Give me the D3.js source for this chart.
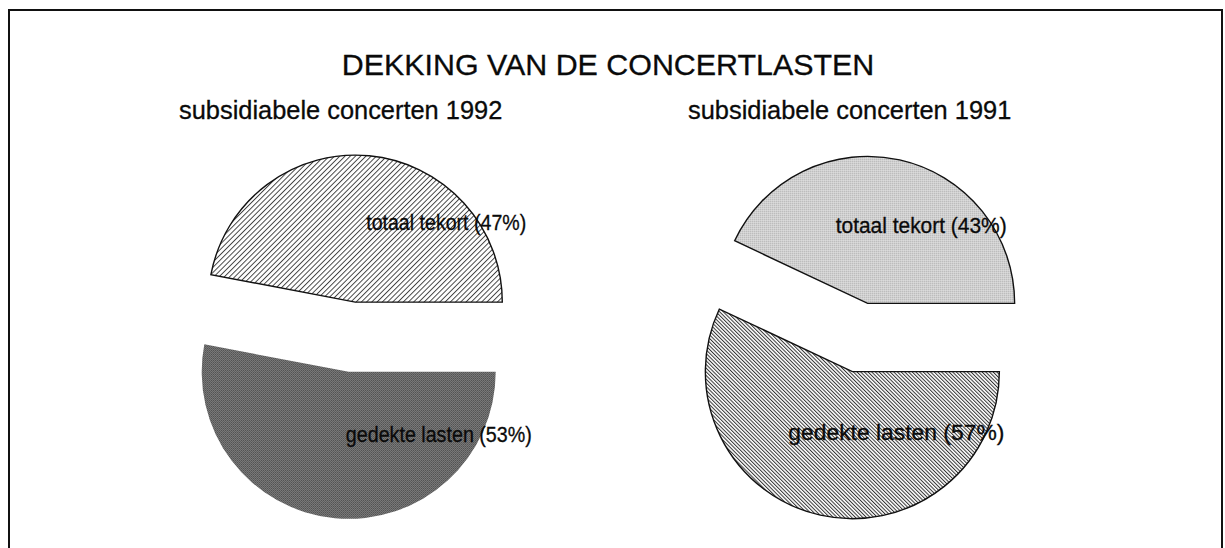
<!DOCTYPE html>
<html>
<head>
<meta charset="utf-8">
<script src="https://cdn.jsdelivr.net/npm/d3@7"></script>
<style>
  html, body { margin: 0; padding: 0; background: #fff; }
  text { font-family: "Liberation Sans", Arial, sans-serif; fill: #0a0a0a; stroke: #0a0a0a; stroke-width: 0.3px; }
</style>
</head>
<body>
<div id="chart"></div>
<script>
// data
const title = 'DEKKING VAN DE CONCERTLASTEN';
const years = ['1992', '1991'];
const subtitles = ['subsidiabele concerten 1992', 'subsidiabele concerten 1991'];
const categories = ['gedekte lasten', 'totaal tekort'];
const share1992 = [53, 47];
const share1991 = [57, 43];

const width = 1225;
const height = 548;
const radius = 147;
const explode = 35;

// layout per pie (label widths follow the squeezed lettering of the original)
const panels = [
  { cx: 352, cy: 337, subX: 179, labelDx: 4, labelWidths: [186, 160], values: share1992,
    fills: ['url(#checker)', 'url(#hatch-fwd)'], strokes: [false, true] },
  { cx: 860, cy: 337.5, subX: 688, labelDx: -48, labelWidths: [216, 171], values: share1991,
    fills: ['url(#hatch-back)', 'url(#dots)'], strokes: [true, true] }
];

const $svg = d3.select('#chart').append('svg')
  .attr('width', width)
  .attr('height', height);

const defs = $svg.append('defs');

// "/" hatch
const fwd = defs.append('pattern')
  .attr('id', 'hatch-fwd')
  .attr('patternUnits', 'userSpaceOnUse')
  .attr('width', 3.7).attr('height', 10)
  .attr('patternTransform', 'rotate(45)');
fwd.append('rect').attr('width', 3.7).attr('height', 10).attr('fill', '#fff');
fwd.append('line').attr('x1', 0.5).attr('x2', 0.5).attr('y1', 0).attr('y2', 10)
  .attr('stroke', '#222').attr('stroke-width', 0.85);

// "\" hatch, denser
const back = defs.append('pattern')
  .attr('id', 'hatch-back')
  .attr('patternUnits', 'userSpaceOnUse')
  .attr('width', 2.6).attr('height', 10)
  .attr('patternTransform', 'rotate(-45)');
back.append('rect').attr('width', 2.6).attr('height', 10).attr('fill', '#fff');
back.append('line').attr('x1', 0.5).attr('x2', 0.5).attr('y1', 0).attr('y2', 10)
  .attr('stroke', '#333').attr('stroke-width', 1);

// fine stipple
const dots = defs.append('pattern')
  .attr('id', 'dots')
  .attr('patternUnits', 'userSpaceOnUse')
  .attr('width', 2).attr('height', 2);
dots.append('rect').attr('width', 2).attr('height', 2).attr('fill', '#e8e8e8');
dots.append('rect').attr('width', 1).attr('height', 1).attr('fill', '#808080');

// dark checker
const checker = defs.append('pattern')
  .attr('id', 'checker')
  .attr('patternUnits', 'userSpaceOnUse')
  .attr('width', 2).attr('height', 2);
checker.append('rect').attr('width', 2).attr('height', 2).attr('fill', '#a0a0a0');
checker.append('rect').attr('width', 1).attr('height', 1).attr('fill', '#262626');
checker.append('rect').attr('x', 1).attr('y', 1).attr('width', 1).attr('height', 1).attr('fill', '#3a3a3a');

defs.append('filter').attr('id', 'soft')
  .append('feGaussianBlur').attr('stdDeviation', 0.6);

// frame
$svg.append('path')
  .attr('d', `M9,${height + 5}V10H1222V${height + 5}`)
  .attr('fill', 'none')
  .attr('stroke', '#111')
  .attr('stroke-width', 2);

$svg.append('text')
  .attr('x', 608)
  .attr('y', 75)
  .attr('text-anchor', 'middle')
  .attr('font-size', 30.4)
  .text(title);

const pie = d3.pie()
  .sort(null)
  .startAngle(Math.PI / 2)
  .endAngle(Math.PI / 2 + 2 * Math.PI);

const arc = d3.arc()
  .innerRadius(0)
  .outerRadius(radius);

panels.forEach((p, i) => {
  $svg.append('text')
    .attr('x', p.subX)
    .attr('y', 119)
    .attr('font-size', 25.4)
    .text(subtitles[i]);

  const $pie = $svg.append('g')
    .attr('transform', `translate(${p.cx}, ${p.cy})`);

  const slices = pie(p.values).map((d, j) => {
    const mid = (d.startAngle + d.endAngle) / 2;
    return Object.assign(d, {
      name: categories[j],
      dx: Math.sin(mid) * explode,
      dy: -Math.cos(mid) * explode,
      fill: p.fills[j],
      stroke: p.strokes[j],
      labelWidth: p.labelWidths[j]
    });
  });

  $pie.selectAll('.slice')
    .data(slices)
    .enter()
    .append('path')
    .attr('class', 'slice')
    .attr('transform', d => `translate(${d.dx}, ${d.dy})`)
    .attr('d', arc)
    .attr('fill', d => d.fill)
    .attr('stroke', d => d.stroke ? '#111' : 'none')
    .attr('stroke-width', 1.4)
    .attr('filter', d => d.stroke ? null : 'url(#soft)');

  $pie.selectAll('.label')
    .data(slices)
    .enter()
    .append('text')
    .attr('class', 'label')
    .attr('x', d => arc.centroid(d)[0] + d.dx + p.labelDx)
    .attr('y', d => arc.centroid(d)[1] + d.dy + (d.dy < 0 ? 1 : -3))
    .attr('font-size', 22)
    .attr('textLength', d => d.labelWidth)
    .attr('lengthAdjust', 'spacingAndGlyphs')
    .text(d => `${d.name} (${d.value}%)`);
});
</script>
</body>
</html>
